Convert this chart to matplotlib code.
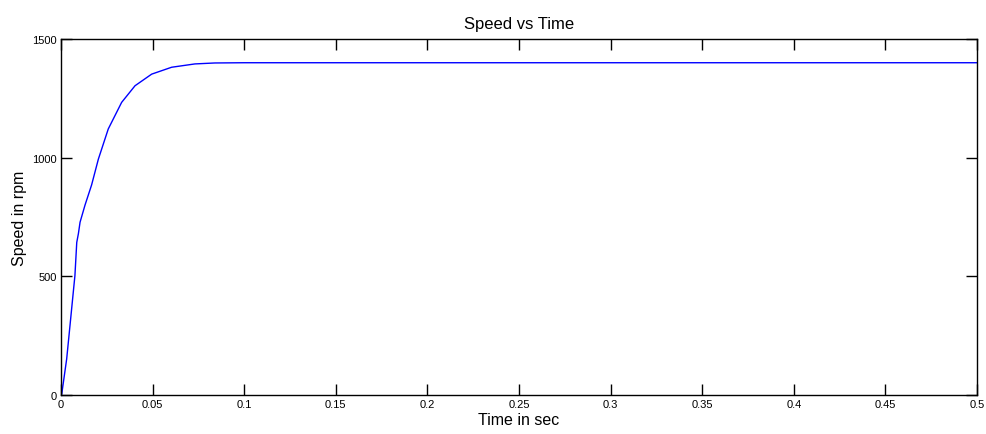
import numpy as np
import matplotlib
matplotlib.use("Agg")
import matplotlib.pyplot as plt

# speed response
tiempo = [0, 0.0004, 0.0031, 0.0049, 0.0067, 0.0076, 0.0086, 0.0095, 0.0104,
          0.0131, 0.0167, 0.0204, 0.0258, 0.0331, 0.0404, 0.0495, 0.0604,
          0.0731, 0.084, 0.1, 0.5]
velocidad = [0, 4, 152, 292, 433, 503, 643, 680, 728,
             800, 885, 994, 1121, 1233, 1303, 1352, 1381,
             1395, 1399, 1400, 1400]

xticks = [0, 0.05, 0.1, 0.15, 0.2, 0.25, 0.3, 0.35, 0.4, 0.45, 0.5]
xlabels = ["0", "0.05", "0.1", "0.15", "0.2", "0.25", "0.3", "0.35", "0.4", "0.45", "0.5"]
yticks = [0, 500, 1000, 1500]

plt.rcParams['font.family'] = ['Liberation Sans', 'DejaVu Sans']

fig = plt.figure(figsize=(9.86, 4.35), dpi=100)
ax = fig.add_axes([61/986, 39/435, 916/986, 356/435])

ax.plot(tiempo, velocidad, color='#0000ff', linewidth=1.0)

ax.set_xlim(0, 0.5)
ax.set_ylim(0, 1500)
ax.set_xticks(xticks)
ax.set_xticklabels(xlabels)
ax.set_yticks(yticks)
ax.tick_params(direction='in', length=8, width=1, top=True, right=True,
               labelsize=8, pad=3, color='black')
for s in ax.spines.values():
    s.set_linewidth(1.0)

ax.set_title('Speed vs Time', fontsize=12, pad=8)
ax.set_xlabel('Time in sec', fontsize=11.5, labelpad=2)
ax.set_ylabel('Speed in rpm', fontsize=11.5, labelpad=4)

fig.savefig('out.png', dpi=100)
